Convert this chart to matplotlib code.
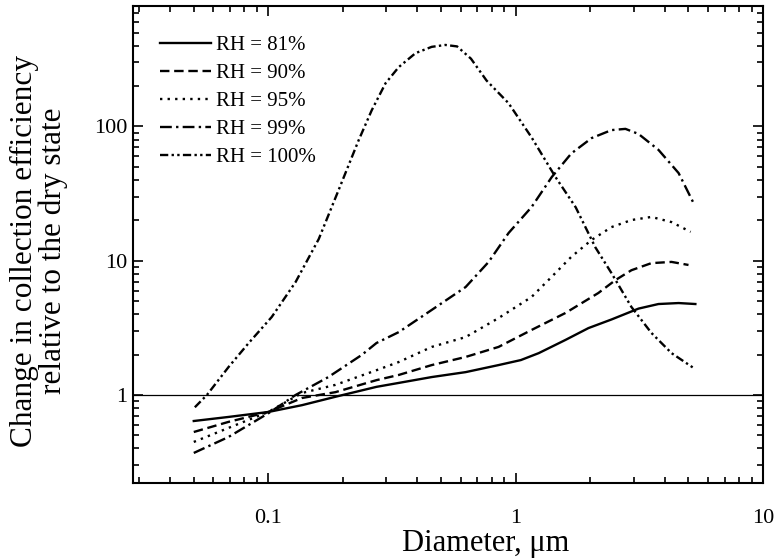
import numpy as np
import matplotlib
matplotlib.use("Agg")
import matplotlib.pyplot as plt
from matplotlib.ticker import LogLocator, FixedLocator, FixedFormatter, NullFormatter

plt.rcParams["font.family"] = ["Liberation Serif", "DejaVu Serif"]

# Данные (диаметр, мкм -> изменение эффективности)
d_81 = [0.050, 0.069, 0.100, 0.137, 0.187, 0.274, 0.337, 0.458, 0.628, 0.853,
        1.05, 1.24, 1.59, 1.97, 2.44, 3.14, 3.78, 4.56, 5.33]
v_81 = [0.64, 0.686, 0.747, 0.84, 0.97, 1.15, 1.23, 1.36, 1.48, 1.67,
        1.82, 2.05, 2.57, 3.15, 3.65, 4.40, 4.76, 4.84, 4.76]

d_90 = [0.050, 0.069, 0.100, 0.137, 0.187, 0.274, 0.337, 0.458, 0.628, 0.853,
        1.16, 1.59, 2.16, 2.54, 2.94, 3.54, 4.27, 5.0]
v_90 = [0.53, 0.63, 0.747, 0.95, 1.05, 1.29, 1.41, 1.67, 1.92, 2.28,
        3.05, 4.08, 5.75, 7.2, 8.5, 9.6, 9.8, 9.3]

d_95 = [0.050, 0.069, 0.100, 0.137, 0.187, 0.274, 0.337, 0.458, 0.628, 0.853,
        1.16, 1.40, 1.68, 2.03, 2.44, 2.94, 3.54, 4.27, 5.1]
v_95 = [0.447, 0.568, 0.747, 1.035, 1.19, 1.53, 1.76, 2.28, 2.70, 3.74,
        5.37, 7.6, 10.7, 14.3, 17.8, 20.1, 21.2, 19.4, 16.4]

d_99 = [0.050, 0.069, 0.1005, 0.129, 0.175, 0.239, 0.274, 0.337, 0.458, 0.628,
        0.778, 0.937, 1.16, 1.40, 1.68, 2.03, 2.44, 2.78, 3.14, 3.78, 4.56, 5.24]
v_99 = [0.37, 0.486, 0.734, 1.0, 1.36, 1.99, 2.44, 2.94, 4.30, 6.37,
        9.8, 16.1, 25.1, 42, 63, 82, 94, 96, 88, 67, 45, 26.9]

d_100 = [0.0505, 0.0565, 0.0692, 0.0834, 0.1033, 0.129, 0.16, 0.193, 0.232, 0.262,
         0.298, 0.337, 0.394, 0.458, 0.52, 0.58, 0.66, 0.763, 0.937, 1.16,
         1.45, 1.75, 2.10, 2.44, 2.94, 3.54, 4.27, 5.24]
v_100 = [0.81, 1.0, 1.62, 2.44, 3.81, 6.94, 14.5, 34, 79, 132,
         210, 277, 352, 392, 405, 395, 320, 220, 149, 83,
         42, 25, 12.6, 8.1, 4.52, 2.90, 2.05, 1.59]

labels = ["RH = 81%", "RH = 90%", "RH = 95%", "RH = 99%", "RH = 100%"]
x_ticks = [0.1, 1, 10]
x_tick_labels = ["0.1", "1", "10"]
y_ticks = [1, 10, 100]
y_tick_labels = ["1", "10", "100"]

fig = plt.figure(figsize=(7.76, 5.6), dpi=100)
ax = fig.add_axes([0.1714, 0.1375, 0.8118, 0.8518])

lw = 1.7
ax.plot(d_81, v_81, color="black", lw=lw, linestyle="-", label=labels[0])
ax.plot(d_90, v_90, color="black", lw=lw, linestyle=(0, (4, 2)), label=labels[1])
ax.plot(d_95, v_95, color="black", lw=lw, linestyle=(0, (1, 2.2)), label=labels[2])
ax.plot(d_99, v_99, color="black", lw=lw, linestyle=(0, (5, 1.8, 1, 1.8)), label=labels[3])
ax.plot(d_100, v_100, color="black", lw=lw, linestyle=(0, (3.5, 1.4, 1, 1.4, 1, 1.4)),
        label=labels[4])

# линия y = 1
ax.axhline(1, color="black", lw=0.9)

ax.set_xscale("log")
ax.set_yscale("log")
ax.set_xlim(0.0284, 10)
ax.set_ylim(0.221, 790)

ax.xaxis.set_major_locator(FixedLocator(x_ticks))
ax.xaxis.set_major_formatter(FixedFormatter(x_tick_labels))
ax.yaxis.set_major_locator(FixedLocator(y_ticks))
ax.yaxis.set_major_formatter(FixedFormatter(y_tick_labels))
ax.xaxis.set_minor_locator(LogLocator(base=10, subs=np.arange(2, 10), numticks=20))
ax.yaxis.set_minor_locator(LogLocator(base=10, subs=np.arange(2, 10), numticks=20))
ax.xaxis.set_minor_formatter(NullFormatter())
ax.yaxis.set_minor_formatter(NullFormatter())

ax.tick_params(which="both", direction="in", top=True, right=True, width=1.2)
ax.tick_params(which="major", length=7, labelsize=16)
ax.tick_params(axis="x", which="major", pad=19)
ax.tick_params(axis="y", which="major", pad=4)
ax.tick_params(which="minor", length=4)
for s in ax.spines.values():
    s.set_linewidth(1.5)

ax.set_xlabel("Diameter, μm", fontsize=22)
ax.xaxis.set_label_coords(0.559, -0.097)
ax.set_ylabel("Change in collection efficiency\nrelative to the dry state",
              fontsize=22.5, linespacing=1.0)
ax.yaxis.set_label_coords(-0.103, 0.486)

ax.legend(loc="upper left", frameon=False, fontsize=15, handlelength=2.45,
          handletextpad=0.25, labelspacing=0.4, borderaxespad=0.0,
          bbox_to_anchor=(0.03, 0.955))

fig.savefig("out.png", dpi=100)
